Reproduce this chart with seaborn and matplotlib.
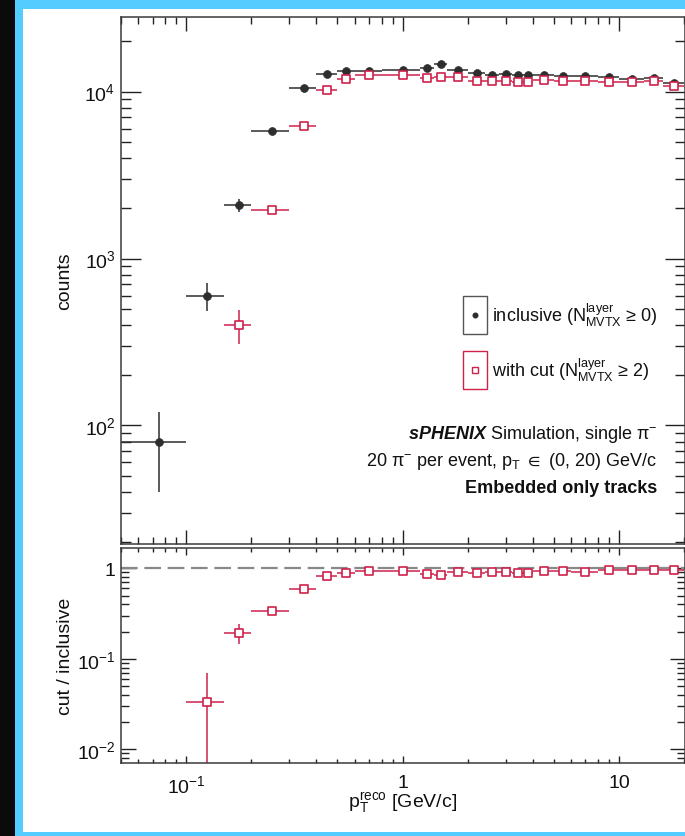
import numpy as np
import matplotlib
matplotlib.use("Agg")
import matplotlib.pyplot as plt
import seaborn as sns
import pandas as pd
from matplotlib.patches import Rectangle
from matplotlib.lines import Line2D
from matplotlib.ticker import LogLocator, FuncFormatter, NullFormatter

# ---------------- data ----------------
bin_low = [0.05, 0.1, 0.15, 0.2, 0.3, 0.4, 0.5, 0.6, 0.8, 1.2, 1.4, 1.6,
           2.0, 2.4, 2.8, 3.2, 3.6, 4.0, 5.0, 6.0, 8.0, 10.0, 13.0, 16.0]
bin_high = [0.1, 0.15, 0.2, 0.3, 0.4, 0.5, 0.6, 0.8, 1.2, 1.4, 1.6, 2.0,
            2.4, 2.8, 3.2, 3.6, 4.0, 5.0, 6.0, 8.0, 10.0, 13.0, 16.0, 20.0]
pt_center = [0.075, 0.125, 0.175, 0.25, 0.35, 0.45, 0.55, 0.7, 1.0, 1.3, 1.5, 1.8,
             2.2, 2.6, 3.0, 3.4, 3.8, 4.5, 5.5, 7.0, 9.0, 11.5, 14.5, 18.0]

counts_inclusive = [80, 600, 2085, 5785, 10510, 12690, 13360, 13360, 13510, 13920, 14630, 13550,
                    12920, 12570, 12740, 12570, 12570, 12640, 12470, 12400, 12300, 11900, 12130, 11320]
err_inclusive = [40, 115, 190, 250, 300, 320, 330, 330, 330, 330, 340, 330,
                 320, 320, 320, 320, 320, 320, 320, 320, 310, 310, 310, 300]

counts_cut = [np.nan, np.nan, 400, 1965, 6195, 10180, 11850, 12520, 12570, 12010, 12180, 12180,
              11570, 11570, 11570, 11420, 11420, 11740, 11640, 11640, 11480, 11370, 11640, 10860]
err_cut = [np.nan, np.nan, 92, 80, 200, 280, 300, 310, 310, 300, 300, 300,
           300, 300, 300, 300, 300, 300, 300, 300, 300, 300, 300, 290]

ratio = [np.nan, 0.0333, 0.195, 0.338, 0.587, 0.816, 0.896, 0.934, 0.934, 0.873, 0.844, 0.903,
         0.896, 0.910, 0.910, 0.896, 0.896, 0.927, 0.927, 0.920, 0.958, 0.958, 0.958, 0.958]
ratio_err_low = [np.nan, 0.0330, 0.050, 0.02, 0.015, 0.012, 0.01, 0.01, 0.01, 0.01, 0.01, 0.01,
                 0.01, 0.01, 0.01, 0.01, 0.01, 0.01, 0.01, 0.01, 0.01, 0.01, 0.01, 0.01]
ratio_err_high = [np.nan, 0.036, 0.046, 0.02, 0.015, 0.012, 0.01, 0.01, 0.01, 0.01, 0.01, 0.01,
                  0.01, 0.01, 0.01, 0.01, 0.01, 0.01, 0.01, 0.01, 0.01, 0.01, 0.01, 0.01]

x_ticks = [0.1, 1, 10]

# ---------------- style ----------------
sns.set_theme(style="ticks")
plt.rcParams['font.family'] = ['Liberation Sans', 'DejaVu Sans']
plt.rcParams['mathtext.fontset'] = 'custom'
plt.rcParams['mathtext.rm'] = 'Liberation Sans'
plt.rcParams['mathtext.sf'] = 'Liberation Sans'
plt.rcParams['mathtext.it'] = 'Liberation Sans:italic'
plt.rcParams['mathtext.bf'] = 'Liberation Sans:bold'
plt.rcParams['mathtext.bfit'] = 'Liberation Sans:italic:bold'
plt.rcParams['mathtext.fallback'] = 'stixsans'

BLACK = '#2e2e2e'
RED = '#d0204c'
W, H = 685.0, 837.0

df = pd.DataFrame({
    'pt': pt_center, 'lo': bin_low, 'hi': bin_high,
    'incl': counts_inclusive, 'incl_err': err_inclusive,
    'cut': counts_cut, 'cut_err': err_cut,
    'ratio': ratio, 'r_lo': ratio_err_low, 'r_hi': ratio_err_high,
})

fig = plt.figure(figsize=(6.85, 8.37), dpi=100)
fig.patch.set_facecolor('#0b0b0b')
fig.add_artist(Rectangle((15 / W, 0), 1 - 15 / W, 1, transform=fig.transFigure,
                         facecolor='#55ccff', edgecolor='none', zorder=-20))
fig.add_artist(Rectangle((23 / W, 4 / H), 1 - 23 / W, 1 - 14 / H, transform=fig.transFigure,
                         facecolor='white', edgecolor='none', zorder=-19))


def px_rect(l, t, r, b):
    return [l / W, 1 - b / H, (r - l) / W, (b - t) / H]


ax1 = fig.add_axes(px_rect(121, 18, 684.5, 544.5))
ax2 = fig.add_axes(px_rect(121, 548.5, 684.5, 764), sharex=ax1)
for ax in (ax1, ax2):
    ax.set_facecolor('none')
    for s in ax.spines.values():
        s.set_color('#3a3a3a')
        s.set_linewidth(1.1)

# ---------------- top panel ----------------
d1 = df.dropna(subset=['incl'])
ax1.errorbar(d1['pt'], d1['incl'], xerr=[d1['pt'] - d1['lo'], d1['hi'] - d1['pt']],
             yerr=d1['incl_err'], fmt='none', ecolor=BLACK, elinewidth=1.1, capsize=0, zorder=2)
sns.scatterplot(data=d1, x='pt', y='incl', ax=ax1, marker='o', s=32, color=BLACK,
                edgecolor=BLACK, linewidth=0.5, zorder=3, legend=False)

d2 = df.dropna(subset=['cut'])
ax1.errorbar(d2['pt'], d2['cut'], xerr=[d2['pt'] - d2['lo'], d2['hi'] - d2['pt']],
             yerr=d2['cut_err'], fmt='none', ecolor=RED, elinewidth=1.1, capsize=0, zorder=4)
sns.scatterplot(data=d2, x='pt', y='cut', ax=ax1, marker='s', s=38, color='white',
                edgecolor=RED, linewidth=1.2, zorder=5, legend=False)

ax1.set_xscale('log')
ax1.set_yscale('log')
ax1.set_xlim(0.05, 20.1)
ax1.set_ylim(19.6, 28000)
ax1.set_xlabel('')
ax1.set_ylabel('')

# ---------------- bottom panel ----------------
d3 = df.dropna(subset=['ratio'])
ax2.axhline(1.0, color='#888888', lw=1.6, dashes=(7.5, 3.0), zorder=1)
ax2.errorbar(d3['pt'], d3['ratio'], xerr=[d3['pt'] - d3['lo'], d3['hi'] - d3['pt']],
             yerr=[d3['r_lo'], d3['r_hi']], fmt='none', ecolor=RED, elinewidth=1.1,
             capsize=0, zorder=2)
sns.scatterplot(data=d3, x='pt', y='ratio', ax=ax2, marker='s', s=38, color='white',
                edgecolor=RED, linewidth=1.2, zorder=3, legend=False)
ax2.set_yscale('log')
ax2.set_ylim(0.00706, 1.70)
ax2.set_xlabel('')
ax2.set_ylabel('')


# ---------------- ticks ----------------
def fmt_pow(v, pos):
    if v <= 0:
        return ''
    e = int(round(np.log10(v)))
    if abs(v - 10 ** e) > 1e-6 * v:
        return ''
    if e == 0:
        return '1'
    if e == 1:
        return '10'
    return r'$\mathdefault{10^{%d}}$' % e


for ax in (ax1, ax2):
    ax.xaxis.set_major_locator(LogLocator(base=10, subs=(1.0,)))
    ax.xaxis.set_minor_locator(LogLocator(base=10, subs=np.arange(2, 10), numticks=20))
    ax.xaxis.set_minor_formatter(NullFormatter())
    ax.yaxis.set_major_locator(LogLocator(base=10, subs=(1.0,)))
    ax.yaxis.set_minor_locator(LogLocator(base=10, subs=np.arange(2, 10), numticks=20))
    ax.yaxis.set_minor_formatter(NullFormatter())
    ax.yaxis.set_major_formatter(FuncFormatter(fmt_pow))
    ax.tick_params(which='both', direction='in', top=True, right=True, color='#222222',
                   width=1.0, labelsize=14, labelcolor='#111111')

ax1.xaxis.set_major_formatter(NullFormatter())
ax1.tick_params(axis='x', which='both', labelbottom=False)
ax1.tick_params(axis='x', which='major', length=10)
ax1.tick_params(axis='x', which='minor', length=5)
ax1.tick_params(axis='y', which='major', length=14.5, pad=4)
ax1.tick_params(axis='y', which='minor', length=7.5)

ax2.xaxis.set_major_formatter(FuncFormatter(fmt_pow))
ax2.tick_params(axis='x', which='major', length=5, pad=8)
ax2.tick_params(axis='x', which='minor', length=3)
ax2.tick_params(axis='y', which='major', length=11, pad=4)
ax2.tick_params(axis='y', which='minor', length=5.5)
ax2.set_xticks(x_ticks)

# ---------------- axis titles ----------------
fig.text(65 / W, 1 - 281 / H, 'counts', rotation=90, ha='center', va='center',
         fontsize=14, color='#111111')
fig.text(65 / W, 1 - 656 / H, 'cut / inclusive', rotation=90, ha='center', va='center',
         fontsize=14, color='#111111')
fig.text(403 / W, 1 - 808 / H, r'p$_{\mathrm{T}}^{\mathrm{reco}}$ [GeV/c]',
         ha='center', va='baseline', fontsize=14, color='#111111')

# ---------------- legend ----------------
fig.add_artist(Rectangle((463 / W, 1 - 335 / H), 24 / W, 38 / H, transform=fig.transFigure,
                         facecolor='none', edgecolor='#555555', lw=1.0))
fig.add_artist(Rectangle((463 / W, 1 - 390 / H), 24 / W, 38 / H, transform=fig.transFigure,
                         facecolor='none', edgecolor=RED, lw=1.0))
fig.add_artist(Line2D([475 / W], [1 - 316 / H], transform=fig.transFigure, marker='o',
                      markersize=3.3, color=BLACK, linestyle='none'))
fig.add_artist(Line2D([475 / W], [1 - 371 / H], transform=fig.transFigure, marker='s',
                      markersize=4.3, markerfacecolor='white', markeredgecolor=RED,
                      markeredgewidth=1.0, linestyle='none'))
fig.text(492 / W, 1 - 322 / H,
         r'inclusive (N$^{\mathrm{layer}}_{\mathrm{MVTX}}$ ≥ 0)',
         ha='left', va='baseline', fontsize=13, color='#111111')
fig.text(492 / W, 1 - 377 / H,
         r'with cut (N$^{\mathrm{layer}}_{\mathrm{MVTX}}$ ≥ 2)',
         ha='left', va='baseline', fontsize=13, color='#111111')

# ---------------- annotation block ----------------
fig.text(657 / W, 1 - 439 / H, r'$\mathbfit{sPHENIX}$ Simulation, single π$^{-}$',
         ha='right', va='baseline', fontsize=13, color='#111111')
fig.text(657 / W, 1 - 466 / H, r'20 π$^{-}$ per event, p$_{\mathrm{T}}$ $\in$ (0, 20) GeV/c',
         ha='right', va='baseline', fontsize=13, color='#111111')
fig.text(657 / W, 1 - 493 / H, 'Embedded only tracks', ha='right', va='baseline',
         fontsize=13, fontweight='bold', color='#111111')

fig.savefig('out.png', dpi=100, facecolor=fig.get_facecolor())
